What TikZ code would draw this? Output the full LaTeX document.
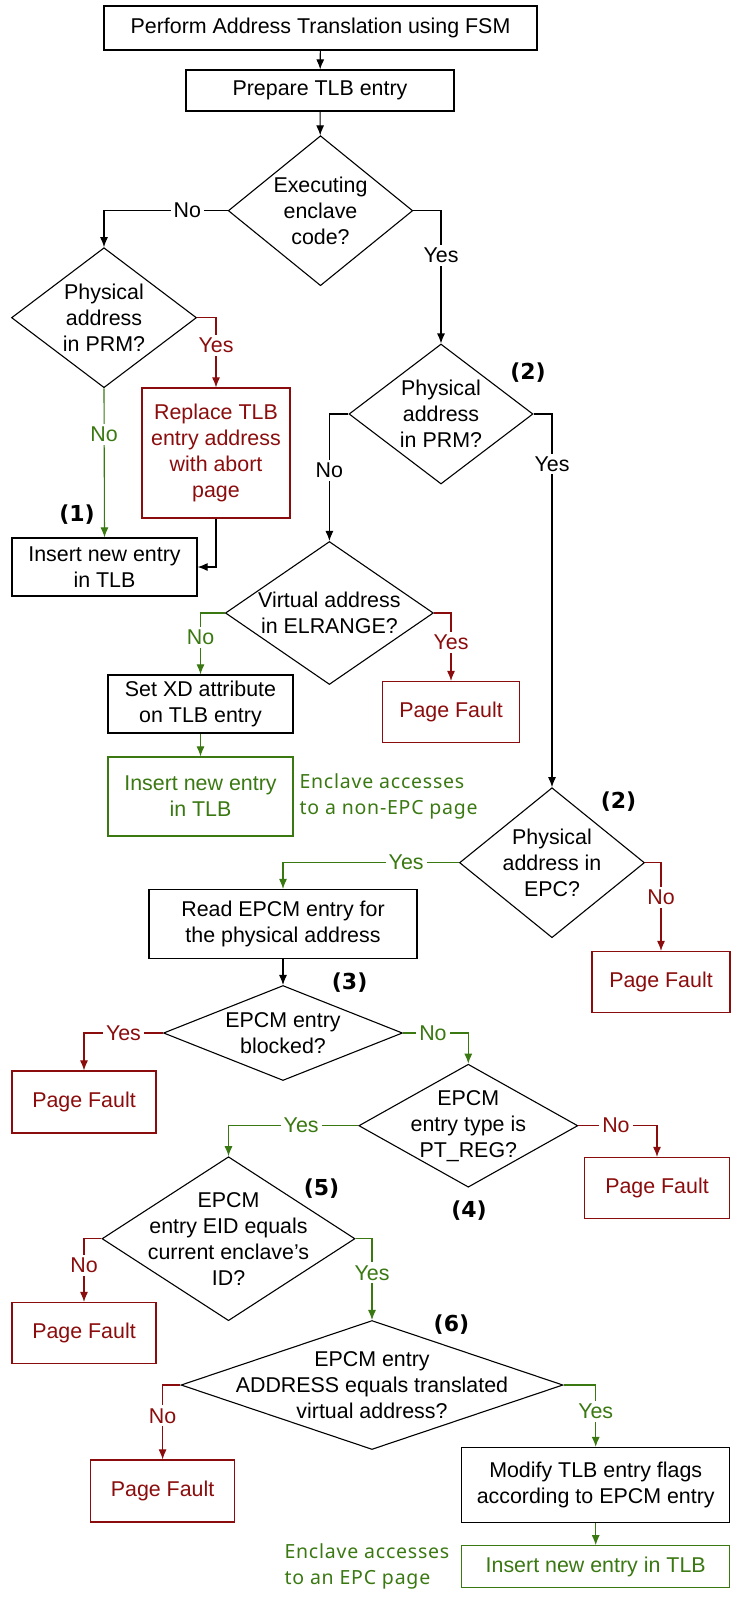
\documentclass[tikz,border=0pt]{standalone}
\usepackage{fontspec}
\setmainfont{Liberation Sans}
\newfontfamily\notefont{Noto Sans}[LetterSpace=4]
\newfontfamily\stepfont{DejaVu Sans}[BoldFont={DejaVu Sans Bold}]
\usetikzlibrary{shapes.geometric,arrows.meta}
\definecolor{pfred}{RGB}{139,12,12}
\definecolor{okgreen}{RGB}{58,120,18}

\begin{document}
\begin{tikzpicture}[x=1pt,y=-1pt,
  font=\fontsize{21.4}{26}\selectfont,
  box/.style={draw, rectangle, inner sep=0pt, align=center, line width=1.2pt},
  redbox/.style={box, draw=pfred, text=pfred},
  greenbox/.style={box, draw=okgreen, text=okgreen},
  decision/.style={draw, diamond, inner sep=0pt, line width=1.1pt},
  flow/.style={line width=1.1pt, -{Latex[length=10pt,width=8pt]}},
  redflow/.style={flow, color=pfred},
  greenflow/.style={flow, color=okgreen},
  tag/.style={fill=white, inner sep=3pt},
  stepno/.style={font=\stepfont\bfseries\fontsize{22}{26}\selectfont},
  note/.style={text=okgreen, align=left, anchor=west, font=\notefont\fontsize{19.5}{26}\selectfont}
]
\useasboundingbox (0,0) rectangle (732,1615);

% boxes
\node[box, minimum width=433pt, minimum height=44pt] (fsm) at (320.5,28) {Perform Address Translation using FSM};
\node[box, minimum width=268pt, minimum height=41pt] (prep) at (320,90.5) {Prepare TLB entry};
\node[redbox, minimum width=148pt, minimum height=130pt] (replace) at (216,453) {Replace TLB\\entry address\\with abort\\page};
\node[box, minimum width=185pt, minimum height=58pt] (insa) at (104.5,567) {Insert new entry\\in TLB};
\node[box, minimum width=185pt, minimum height=58pt] (setxd) at (200.5,704) {Set XD attribute\\on TLB entry};
\node[greenbox, minimum width=185pt, minimum height=79pt] (insb) at (200.5,796.5) {Insert new entry\\in TLB};
\node[redbox, minimum width=137pt, minimum height=61pt] (pfa) at (451,712) {Page Fault};
\node[redbox, minimum width=138pt, minimum height=61pt] (pfb) at (661,982) {Page Fault};
\node[box, minimum width=268pt, minimum height=69pt] (read) at (283,924) {Read EPCM entry for\\the physical address};
\node[redbox, minimum width=144pt, minimum height=62pt] (pfc) at (84,1102) {Page Fault};
\node[redbox, minimum width=145pt, minimum height=61pt] (pfd) at (657,1188) {Page Fault};
\node[redbox, minimum width=144pt, minimum height=61pt] (pfe) at (84,1333) {Page Fault};
\node[redbox, minimum width=144pt, minimum height=62pt] (pff) at (162.6,1491) {Page Fault};
\node[box, minimum width=268pt, minimum height=75pt] (modify) at (595.7,1485) {Modify TLB entry flags\\according to EPCM entry};
\node[greenbox, minimum width=268pt, minimum height=41.6pt] (insc) at (595.7,1566.5) {Insert new entry in TLB};

% decisions
\node[decision, minimum width=184.5pt, minimum height=150pt, label={[align=center]center:{Executing\\enclave\\code?}}] (exec) at (320.5,210.7) {};
\node[decision, minimum width=185pt, minimum height=140pt, label={[align=center]center:{Physical\\address\\in PRM?}}] (prma) at (104,317.7) {};
\node[decision, minimum width=184pt, minimum height=140pt, label={[align=center]center:{Physical\\address\\in PRM?}}] (prmb) at (441,414) {};
\node[decision, minimum width=208pt, minimum height=143pt, label={[align=center]center:{Virtual address\\in ELRANGE?}}] (elr) at (329.4,613) {};
\node[decision, minimum width=185pt, minimum height=150pt, label={[align=center]center:{Physical\\address in\\EPC?}}] (epc) at (552,862.7) {};
\node[decision, minimum width=239pt, minimum height=95pt, label={[align=center]center:{EPCM entry\\blocked?}}] (blk) at (283,1033) {};
\node[decision, minimum width=219pt, minimum height=123pt, label={[align=center]center:{EPCM\\entry type is\\PT\_REG?}}] (ptreg) at (468.3,1125.7) {};
\node[decision, minimum width=253pt, minimum height=164pt, label={[align=center]center:{EPCM\\entry EID equals\\current enclave’s\\ID?}}] (eid) at (228.5,1238.7) {};
\node[decision, minimum width=382pt, minimum height=129pt, label={[align=center]center:{EPCM entry\\ADDRESS equals translated\\virtual address?}}] (addr) at (372,1385) {};

% step numbers
\node[stepno] (s1) at (77,515) {(1)};
\node[stepno] (s2a) at (528,373) {(2)};
\node[stepno] (s2b) at (618.5,801.7) {(2)};
\node[stepno] (s3) at (349.6,983) {(3)};
\node[stepno] (s4) at (469,1210.7) {(4)};
\node[stepno] (s5) at (321.5,1188.3) {(5)};
\node[stepno] (s6) at (451.4,1325) {(6)};

% notes
\node[note] (nonepc) at (296,796) {Enclave accesses\\to a non-EPC page};
\node[note] (isepc) at (281,1566) {Enclave accesses\\to an EPC page};

% connectors
\draw[flow] (fsm) -- (prep);
\draw[flow] (prep) -- (exec);
\draw[flow] (exec.west) -| node[tag, pos=0.163] {No} (prma.north);
\draw[flow] (exec.east) -| node[tag, pos=0.667] {Yes} (prmb.north);
\draw[redflow] (prma.east) -| node[tag, pos=0.70] {Yes} (replace.north);
\draw[greenflow] (prma.south) -- node[tag, pos=0.31] {No} (insa.north);
\draw[flow] (replace.south) |- (insa.east);
\draw[flow] (prmb.west) -| node[tag, pos=0.723] {No} (elr.north);
\draw[flow] (prmb.east) -| node[tag, pos=0.567] {Yes} (epc.north);
\draw[greenflow] (elr.west) -| node[tag, pos=0.70] {No} (setxd.north);
\draw[redflow] (elr.east) -| node[tag, pos=0.718] {Yes} (pfa.north);
\draw[greenflow] (setxd) -- (insb);
\draw[greenflow] (epc.west) -| node[tag, pos=0.15] {Yes} (read.north);
\draw[redflow] (epc.east) -| node[tag, pos=0.697] {No} (pfb.north);
\draw[flow] (read) -- (blk);
\draw[redflow] (blk.west) -| node[tag, pos=0.25] {Yes} (pfc.north);
\draw[greenflow] (blk.east) -| node[tag, pos=0.229] {No} (ptreg.north);
\draw[greenflow] (ptreg.west) -| node[tag, pos=0.22] {Yes} (eid.north);
\draw[redflow] (ptreg.east) -| node[tag, pos=0.239] {No} (pfd.north);
\draw[redflow] (eid.west) -| node[tag, pos=0.713] {No} (pfe.north);
\draw[greenflow] (eid.east) -| node[tag, pos=0.71] {Yes} (addr.north);
\draw[redflow] (addr.west) -| node[tag, pos=0.707] {No} (pff.north);
\draw[greenflow] (addr.east) -| node[tag, pos=0.714] {Yes} (modify.north);
\draw[greenflow] (modify) -- (insc);
\end{tikzpicture}
\end{document}
